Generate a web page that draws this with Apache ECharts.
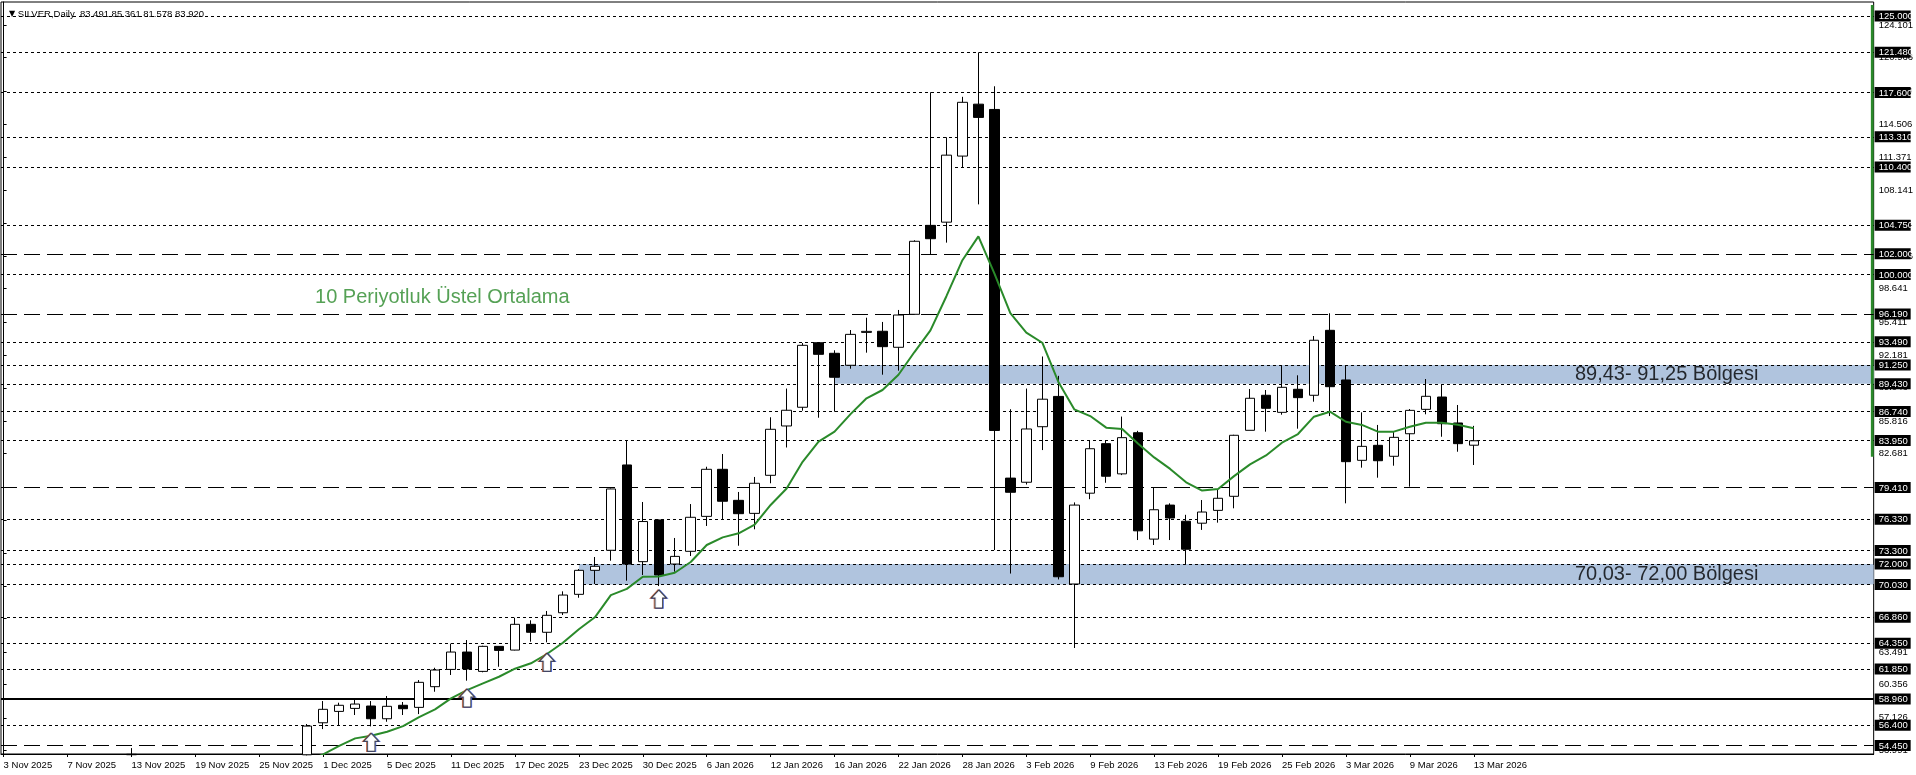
<!DOCTYPE html>
<html><head><meta charset="utf-8">
<script src="https://cdn.jsdelivr.net/npm/echarts@6/dist/echarts.min.js"></script>
<style>html,body{margin:0;padding:0;background:#fff;}#c{width:1916px;height:775px;}</style>
</head><body><div id="c"></div>
<script>
const _ = null;
// ---- data ----
const dates = ['3 Nov 2025','4 Nov 2025','5 Nov 2025','6 Nov 2025','7 Nov 2025','10 Nov 2025','11 Nov 2025','12 Nov 2025','13 Nov 2025','14 Nov 2025','17 Nov 2025','18 Nov 2025','19 Nov 2025','20 Nov 2025','21 Nov 2025','24 Nov 2025','25 Nov 2025','26 Nov 2025','27 Nov 2025','28 Nov 2025',
'1 Dec 2025','2 Dec 2025','3 Dec 2025','4 Dec 2025','5 Dec 2025','8 Dec 2025','9 Dec 2025','10 Dec 2025','11 Dec 2025','12 Dec 2025','15 Dec 2025','16 Dec 2025','17 Dec 2025','18 Dec 2025','19 Dec 2025','22 Dec 2025','23 Dec 2025','24 Dec 2025','26 Dec 2025','29 Dec 2025','30 Dec 2025','31 Dec 2025',
'2 Jan 2026','5 Jan 2026','6 Jan 2026','7 Jan 2026','8 Jan 2026','9 Jan 2026','12 Jan 2026','13 Jan 2026','14 Jan 2026','15 Jan 2026','16 Jan 2026','19 Jan 2026','20 Jan 2026','21 Jan 2026','22 Jan 2026','23 Jan 2026','26 Jan 2026','27 Jan 2026','28 Jan 2026','29 Jan 2026','30 Jan 2026',
'2 Feb 2026','3 Feb 2026','4 Feb 2026','5 Feb 2026','6 Feb 2026','9 Feb 2026','10 Feb 2026','11 Feb 2026','12 Feb 2026','13 Feb 2026','16 Feb 2026','17 Feb 2026','18 Feb 2026','19 Feb 2026','20 Feb 2026','23 Feb 2026','24 Feb 2026','25 Feb 2026','26 Feb 2026','27 Feb 2026',
'2 Mar 2026','3 Mar 2026','4 Mar 2026','5 Mar 2026','6 Mar 2026','9 Mar 2026','10 Mar 2026','11 Mar 2026','12 Mar 2026','13 Mar 2026'];

const open = [_,_,_,_,_,_,_,_,53.6,_,_,_,_,_,_,_,_,_,_,53.55,
56.65,57.75,58.04,58.27,57.04,58.34,58.14,60.14,61.81,63.49,61.62,64.04,63.68,66.17,65.40,67.29,69.07,71.39,73.33,81.58,72.23,76.26,
72.00,73.23,76.61,81.16,78.16,76.90,80.58,85.35,87.16,93.40,92.38,91.22,94.40,94.51,92.96,96.15,104.75,105.06,111.45,116.47,115.96,
80.31,79.91,85.28,88.21,70.07,78.85,83.64,80.72,84.70,74.41,77.70,76.14,75.95,77.19,78.55,84.93,88.32,86.67,88.90,88.32,
94.60,89.80,82.03,83.48,82.42,84.60,86.96,88.15,85.64,83.491];
const high = [_,_,_,_,_,_,_,_,54.2,_,_,_,_,_,_,_,_,_,_,56.53,
58.75,58.59,58.91,58.75,59.24,58.66,60.78,61.97,64.30,64.65,64.10,64.07,66.81,66.56,67.46,69.36,71.52,72.68,79.30,83.90,78.00,76.30,
74.52,77.80,81.41,82.64,78.97,80.42,86.19,88.97,93.37,93.40,92.67,94.63,95.82,95.41,96.57,103.31,117.62,113.27,117.18,121.48,118.20,
86.97,88.97,92.07,90.20,77.96,83.91,83.96,86.26,84.88,79.38,77.87,76.76,78.19,79.26,84.50,88.93,88.83,91.18,90.25,94.05,
96.25,91.15,86.67,85.45,84.86,86.99,89.89,89.38,87.38,85.361];
const low = [_,_,_,_,_,_,_,_,53.55,_,_,_,_,_,_,_,_,_,_,53.5,
56.04,56.43,57.40,56.30,56.75,57.40,57.49,59.65,61.27,60.72,61.53,62.07,63.65,64.49,64.43,67.07,68.74,70.07,72.32,70.39,70.94,69.87,
71.26,72.78,75.68,76.32,73.77,75.36,79.81,83.27,86.83,86.15,86.73,90.89,92.44,90.31,90.70,96.10,101.98,103.08,110.34,106.78,73.35,
71.08,79.69,83.02,70.51,63.88,78.27,79.86,80.60,74.32,73.84,74.32,71.97,75.30,76.00,77.39,84.93,84.80,86.44,85.09,87.70,
86.31,77.87,81.32,80.35,81.51,79.48,86.48,84.31,82.86,81.578];
const close = [_,_,_,_,_,_,_,_,53.56,_,_,_,_,_,_,_,_,_,_,56.33,
57.95,58.34,58.46,57.04,58.24,58.01,60.56,61.75,63.49,61.85,64.04,63.65,66.17,65.40,67.04,69.00,71.39,71.78,79.26,72.00,76.11,70.94,
72.74,76.52,81.16,78.07,76.87,79.81,85.03,86.87,93.15,92.28,90.06,94.21,94.50,93.02,96.08,103.21,103.46,111.54,116.65,115.19,84.92,
78.94,85.06,87.94,70.77,77.70,83.15,80.49,84.22,75.21,77.25,76.45,73.43,77.03,78.36,84.45,88.03,87.06,89.09,88.09,93.64,
89.15,81.90,83.38,81.99,84.25,86.86,88.22,85.57,83.64,83.920];
// 10-period EMA
const ema = [_,_,_,_,_,_,_,_,_,_,_,_,_,_,_,_,_,_,_,52.9,
53.6,54.41,55.14,55.4,55.78,56.33,57.2,57.95,59.01,59.8,60.46,61.1,61.88,62.4,63.3,64.39,65.7,66.85,69.0,69.6,70.77,70.8,
71.16,72.2,73.84,74.58,74.97,75.8,77.71,79.3,81.89,83.83,84.8,86.5,88.03,88.83,90.3,92.5,94.6,97.9,101.38,103.69,100.1,
96.27,94.38,93.40,89.63,86.96,86.31,85.19,85.06,83.64,82.31,81.20,79.9,79.1,79.25,80.5,81.64,82.5,83.73,84.57,86.25,
86.73,85.76,85.45,84.80,84.80,85.28,85.67,85.67,85.47,85.13];

const tickLabels = ['3 Nov 2025','7 Nov 2025','13 Nov 2025','19 Nov 2025','25 Nov 2025','1 Dec 2025','5 Dec 2025','11 Dec 2025','17 Dec 2025','23 Dec 2025','30 Dec 2025','6 Jan 2026','12 Jan 2026','16 Jan 2026','22 Jan 2026','28 Jan 2026','3 Feb 2026','9 Feb 2026','13 Feb 2026','19 Feb 2026','25 Feb 2026','3 Mar 2026','9 Mar 2026','13 Mar 2026'];
const scaleTicks = [124.101,120.966,117.736,114.506,111.371,108.141,104.911,101.776,98.641,95.411,92.181,89.046,85.816,82.681,79.451,76.221,73.086,69.856,66.721,63.491,60.356,57.126,53.991];
const levelValues = [125,121.48,117.6,113.31,110.4,104.75,102,100,96.19,93.49,91.25,89.43,86.74,83.95,79.41,76.33,73.3,72,70.03,66.86,64.35,61.85,58.96,56.4,54.45];
const levelKinds  = ['dot','dot','dot','dot','dot','dot','dash','dot','dash','dot','dot','dot','dot','dot','dash','dot','dot','dot','dot','dot','dot','dot','solid','dot','dash'];
const zoneLow = [89.43, 70.03];
const zoneHigh = [91.25, 72.00];
const zoneFrom = ['16 Jan 2026', '23 Dec 2025'];
const zoneNames = ['89,43- 91,25 Bölgesi', '70,03- 72,00 Bölgesi'];
const signalDates = ['4 Dec 2025','12 Dec 2025','19 Dec 2025','31 Dec 2025'];
const signalPrices = [55.63, 59.91, 63.37, 69.49];
const emaName = '10 Periyotluk Üstel Ortalama';
const rangeBar = [82.38, 126.06];

// ---- build ----
const GREEN = '#2a8a2a';
const FONT = '"Liberation Sans", Arial, sans-serif';
const xMin = -0.1625, xMax = 117.025, yMin = 53.63, yMax = 126.35;
const idx = d => dates.indexOf(d);
const candleRows = [], emaRows = [];
for (let i = 0; i < dates.length; i++) {
  if (open[i] != null) candleRows.push([i, open[i], close[i], low[i], high[i]]);
  if (ema[i] != null) emaRows.push([i, ema[i]]);
}
const tickBars = tickLabels.map(idx);
const styles = {
  dot: {type: [3, 3], width: 1, color: '#000'},
  dash: {type: [16, 7], width: 1, color: '#000'},
  solid: {type: 'solid', width: 2, color: '#000'}
};
const L = dates.length - 1;
const hdr = [open[L], high[L], low[L], close[L]].map(v => v.toFixed(3)).join(' ');
const signalRows = signalDates.map((d, i) => [idx(d), signalPrices[i]]);
const arrowPath = 'path://M8,0 L16,8 L12,8 L12,18 L4,18 L4,8 L0,8 Z';
const arrowSeries = (col, dx, z, bw) => ({
  type: 'scatter', data: signalRows, symbol: arrowPath, symbolSize: [15, 18], symbolKeepAspect: false,
  symbolOffset: [dx, 9], itemStyle: {color: '#fff', borderColor: col, borderWidth: bw}, z: z, silent: true
});

const option = {
  animation: false,
  backgroundColor: '#fff',
  title: {
    text: '{t|▼} SILVER,Daily  ' + hdr, left: 4, top: 4,
    textStyle: {fontSize: 9.5, fontWeight: 'normal', color: '#000', fontFamily: FONT,
      rich: {t: {fontSize: 8, color: '#000', fontFamily: '"DejaVu Sans", sans-serif'}}}
  },
  grid: {left: 1, right: 40, top: 2, bottom: 21, show: true, borderColor: '#000', borderWidth: 1, backgroundColor: 'transparent'},
  xAxis: {
    type: 'value', min: xMin, max: xMax, splitLine: {show: false},
    axisLine: {show: true, lineStyle: {color: '#000'}},
    axisTick: {show: true, customValues: tickBars, length: 3, lineStyle: {color: '#000'}},
    axisLabel: {customValues: tickBars, formatter: v => dates[Math.round(v)], align: 'left', margin: 6,
      fontSize: 9.5, color: '#000', fontFamily: FONT}
  },
  yAxis: [
    {type: 'value', position: 'right', min: yMin, max: yMax, splitLine: {show: false},
      axisLine: {show: true, lineStyle: {color: '#000'}},
      axisTick: {show: true, customValues: scaleTicks, length: 3, lineStyle: {color: '#000'}},
      axisLabel: {customValues: scaleTicks, formatter: v => v.toFixed(3), margin: 5, fontSize: 9.5, color: '#000', fontFamily: FONT}},
    {type: 'value', position: 'right', min: yMin, max: yMax, splitLine: {show: false},
      axisLine: {show: false}, axisTick: {show: false},
      axisLabel: {customValues: levelValues, formatter: v => '{b|' + v.toFixed(3) + '}', margin: 1,
        rich: {b: {color: '#fff', backgroundColor: '#000', fontSize: 9.5, fontFamily: FONT, width: 32, padding: [1, 0, 0, 4], lineHeight: 10, align: 'left'}}}}
  ],
  series: [
    {
      type: 'line', data: [], silent: true, z: 1,
      markArea: {silent: true, z: 1, itemStyle: {color: '#b0c4de'},
        data: zoneLow.map((lo, i) => [{xAxis: idx(zoneFrom[i]), yAxis: lo}, {xAxis: xMax, yAxis: zoneHigh[i]}])
          .concat([[{xAxis: 116.85, yAxis: rangeBar[0], itemStyle: {color: GREEN}}, {xAxis: xMax, yAxis: rangeBar[1]}]])},
      markLine: {silent: true, z: 2, symbol: 'none', label: {show: false}, animation: false,
        data: levelValues.map((v, i) => ({yAxis: v, lineStyle: styles[levelKinds[i]]}))}
    },
    {
      type: 'candlestick', name: 'SILVER', data: candleRows, encode: {x: 0, y: [1, 2, 3, 4]},
      barWidth: 10, z: 3, silent: true,
      itemStyle: {color: '#fff', color0: '#000', borderColor: '#000', borderColor0: '#000', borderWidth: 1}
    },
    {
      type: 'line', name: 'EMA10', data: emaRows, showSymbol: false, symbol: 'none', z: 4, silent: true,
      lineStyle: {color: GREEN, width: 2}
    },
    arrowSeries('#c0502a', -0.8, 5, 1.2),
    arrowSeries('#3050d0', 0.8, 6, 1.2),
    arrowSeries('#222', 0, 7, 1),
    {
      type: 'scatter', silent: true, z: 8, symbolSize: 1, itemStyle: {color: 'rgba(0,0,0,0)'},
      label: {show: true, position: 'right', distance: 0, fontSize: 20, fontFamily: FONT, color: '#000'},
      data: [{value: [19.46, 97.8], label: {formatter: emaName, color: GREEN}}]
        .concat(zoneNames.map((n, i) => ({value: [98.3, (zoneLow[i] + zoneHigh[i]) / 2], label: {formatter: n}})))
    }
  ]
};
const chart = echarts.init(document.getElementById('c'), null, {renderer: 'canvas'});
chart.setOption(option);
</script></body></html>
